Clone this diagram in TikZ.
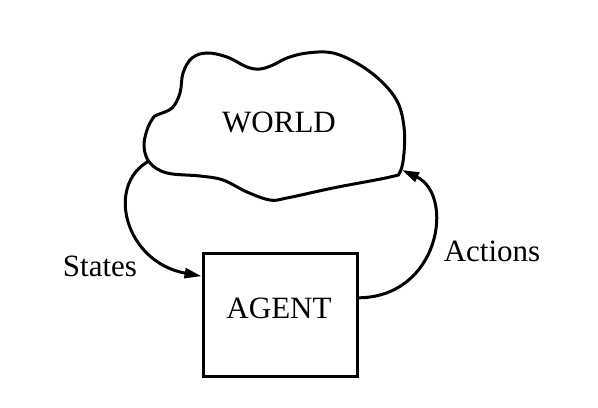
\documentclass[tikz,border=0pt]{standalone}
\usepackage{fontspec}
\setmainfont{Liberation Serif}
\usepackage{tikz}
\usetikzlibrary{arrows.meta}

\begin{document}
\begin{tikzpicture}[x=0.5pt,y=-0.5pt,
        every node/.append style={font=\fontsize{15.5}{18}\selectfont},
        line/.style={line width=1.5pt},
        link/.style={line,-{Triangle[length=8.5pt,width=5pt]}}
        ]
        \useasboundingbox (0,0) rectangle (598,407);
        % World cloud
        \draw[line] plot[smooth cycle,tension=0.6] coordinates {
            (157,115) (172,108) (180,93) (183,73) (192,58) (207,53)
            (227,57) (247,67) (260,69) (273,65) (287,58) (307,53)
            (333,53) (360,65) (383,83) (398,103) (404,127) (404,153)
            (400,172) (390,177) (333,188) (287,198) (270,200) (247,192)
            (223,180) (200,176) (167,173) (150,163) (144,147) (147,130)
            (153,118)};
        \node (world) at (279,122) {WORLD};
        \coordinate (worldout) at (149,161);
        \coordinate (worldin) at (402,170);
        % Agent box
        \node[draw,line,minimum width=77pt,minimum height=61.5pt,inner sep=0pt] (agent) at (280,314.5) {};
        \node (agenttext) at (279,308) {AGENT};
        % loops
        \draw[link] (worldout) .. controls (105,185) and (125,262) .. (agent.154.6);
        \draw[link] (agent.12.8) .. controls (440,297) and (455,195) .. (worldin);
        \node (states) at (100,266) {States};
        \node (actions) at (492,251) {Actions};
\end{tikzpicture}
\end{document}
